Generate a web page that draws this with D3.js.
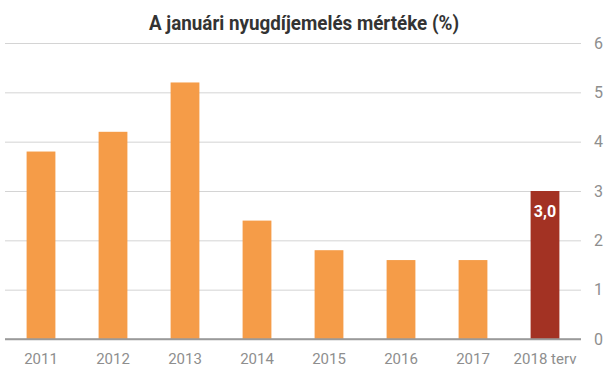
<!DOCTYPE html>
<html>
<head>
<meta charset="utf-8">
<script src="https://cdn.jsdelivr.net/npm/d3@7"></script>
<style>
  body { margin: 0; background: #fff; }
  text { font-family: Roboto, "Liberation Sans", sans-serif; }
</style>
</head>
<body>
<div class="canvas"></div>
<script>
// chart data
const years = ['2011', '2012', '2013', '2014', '2015', '2016', '2017', '2018 terv']
const raise = [3.8, 4.2, 5.2, 2.4, 1.8, 1.6, 1.6, 3.0]
const yTicks = [0, 1, 2, 3, 4, 5, 6]
const title = 'A januári nyugdíjemelés mértéke (%)'

// graph constant settings
const dims = { width: 605, height: 378 }
const plot = { left: 5, right: 581, top: 43, bottom: 339 }

const svg = d3.select('.canvas')
  .append('svg')
  .attr('width', dims.width)
  .attr('height', dims.height)

const x = d3.scaleBand()
  .domain(years)
  .range([plot.left, plot.right])
  .paddingInner(0.6)
  .paddingOuter(0.3)

const y = d3.scaleLinear()
  .domain([0, 6])
  .range([plot.bottom, plot.top])

// gridlines + right labels
const yAxis = svg.append('g')
  .attr('transform', `translate(${plot.right}, 0)`)
  .call(d3.axisRight(y)
    .tickValues(yTicks)
    .tickFormat(d3.format('d'))
    .tickSize(-(plot.right - plot.left))
    .tickPadding(13))

yAxis.select('.domain').remove()
yAxis.selectAll('line')
  .attr('stroke', d => d === 0 ? '#9a9a9a' : '#d4d4d4')
  .attr('stroke-width', d => d === 0 ? 1.3 : 1)
yAxis.selectAll('text')
  .attr('fill', '#8e8e8e')
  .attr('font-size', 16)

// bars
svg.append('g').selectAll('rect')
  .data(years)
  .enter()
  .append('rect')
  .attr('x', d => x(d))
  .attr('width', x.bandwidth())
  .attr('y', (d, i) => y(raise[i]))
  .attr('height', (d, i) => y(0) - y(raise[i]))
  .attr('fill', (d, i) => i === years.length - 1 ? '#a33223' : '#f59c48')

// redraw the baseline above bars
svg.append('line')
  .attr('x1', plot.left).attr('x2', plot.right)
  .attr('y1', y(0)).attr('y2', y(0))
  .attr('stroke', '#9a9a9a')
  .attr('stroke-width', 1.3)

// x labels
const xAxis = svg.append('g')
  .attr('transform', `translate(0, ${plot.bottom})`)
  .call(d3.axisBottom(x).tickSize(0).tickPadding(14))
xAxis.select('.domain').remove()
xAxis.selectAll('text')
  .attr('fill', '#8e8e8e')
  .attr('font-size', 15)

// value label on the planned bar
const last = years.length - 1
svg.append('text')
  .attr('x', x(years[last]) + x.bandwidth() / 2)
  .attr('y', y(raise[last]) + 26)
  .attr('text-anchor', 'middle')
  .attr('fill', '#fff')
  .attr('font-weight', 'bold')
  .attr('font-size', 16)
  .text(raise[last].toFixed(1).replace('.', ','))

// title
svg.append('text')
  .attr('x', 304)
  .attr('y', 30)
  .attr('text-anchor', 'middle')
  .attr('fill', '#333')
  .attr('font-weight', 'bold')
  .attr('font-size', 19.5)
  .attr('textLength', 310)
  .attr('lengthAdjust', 'spacingAndGlyphs')
  .text(title)
</script>
</body>
</html>
